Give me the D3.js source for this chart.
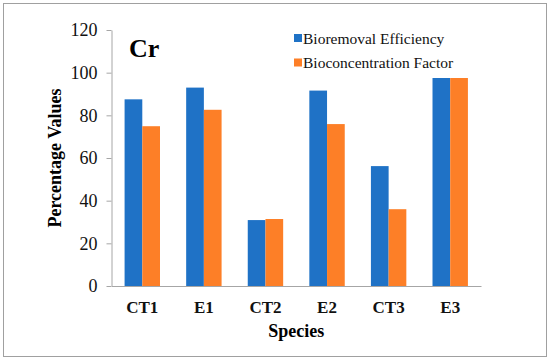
<!DOCTYPE html>
<html>
<head>
<meta charset="utf-8">
<script src="https://cdn.jsdelivr.net/npm/d3@7"></script>
<style>
  body { margin: 0; background: #fff; }
  text { font-family: "Liberation Serif", "Times New Roman", serif; }
</style>
</head>
<body>
<svg id="chart"></svg>
<script>
// data
const species = ["CT1", "E1", "CT2", "E2", "CT3", "E3"];
const seriesNames = ["Bioremoval Efficiency", "Bioconcentration Factor"];
const bioremoval = [87.5, 93.0, 30.9, 91.6, 56.2, 97.5];
const bioconcentration = [74.9, 82.6, 31.4, 75.9, 36.0, 97.5];
const yTicks = [0, 20, 40, 60, 80, 100, 120];
const colors = ["#1f72c6", "#fd7f27"];

const width = 550, height = 360;
const margin = { top: 30, right: 69, bottom: 74, left: 111.5 };

const svg = d3.select("#chart").attr("width", width).attr("height", height);

//frame
svg.append("rect")
  .attr("x", 3.5).attr("y", 3.5)
  .attr("width", width - 7).attr("height", height - 7)
  .attr("fill", "#fff").attr("stroke", "#a0a0a0");

const x = d3.scaleBand()
  .domain(species)
  .range([margin.left, width - margin.right])
  .paddingInner(0.425).paddingOuter(0.2125);

const x1 = d3.scaleBand().domain([0, 1]).range([0, x.bandwidth()]);

const y = d3.scaleLinear().domain([0, 120]).range([height - margin.bottom, margin.top]);

const rows = species.map((s, i) => ({ s, v: [bioremoval[i], bioconcentration[i]] }));

//bars
svg.append("g").selectAll("g")
  .data(rows).join("g")
  .attr("transform", d => `translate(${x(d.s)},0)`)
  .selectAll("rect")
  .data(d => d.v.map((v, k) => ({ v, k })))
  .join("rect")
  .attr("x", d => x1(d.k))
  .attr("width", x1.bandwidth())
  .attr("y", d => y(d.v))
  .attr("height", d => y(0) - y(d.v))
  .attr("fill", d => colors[d.k]);

//y axis
const yAxis = svg.append("g")
  .attr("transform", `translate(${margin.left},0)`)
  .call(d3.axisLeft(y).tickValues(yTicks).tickSize(5).tickSizeOuter(0).tickPadding(9));
yAxis.select(".domain").attr("stroke", "#a6a6a6");
yAxis.selectAll(".tick line").attr("stroke", "#a6a6a6");
yAxis.selectAll(".tick text")
  .attr("font-size", 18).attr("fill", "#111")
  .style("font-family", "Liberation Serif");

//x axis
const xAxis = svg.append("g")
  .attr("transform", `translate(0,${y(0)})`)
  .call(d3.axisBottom(x).tickSize(0).tickPadding(15));
xAxis.select(".domain").attr("stroke", "#a6a6a6");
xAxis.selectAll(".tick text")
  .attr("font-size", 17).attr("font-weight", "bold").attr("fill", "#111")
  .style("font-family", "Liberation Serif");

//axis titles
svg.append("text")
  .attr("x", (margin.left + width - margin.right) / 2)
  .attr("y", 337)
  .attr("text-anchor", "middle")
  .attr("font-size", 18).attr("font-weight", "bold")
  .text("Species");

svg.append("text")
  .attr("transform", `translate(61,${(margin.top + height - margin.bottom) / 2}) rotate(-90)`)
  .attr("text-anchor", "middle")
  .attr("font-size", 18).attr("font-weight", "bold")
  .text("Percentage Values");

//panel label
svg.append("text")
  .attr("x", 129).attr("y", 57)
  .attr("font-size", 26).attr("font-weight", "bold")
  .text("Cr");

//legend
const leg = svg.append("g").selectAll("g")
  .data(seriesNames).join("g")
  .attr("transform", (d, i) => `translate(294,${38 + i * 24.5})`);
leg.append("rect")
  .attr("y", -4)
  .attr("width", 8).attr("height", 8)
  .attr("fill", (d, i) => colors[i]);
leg.append("text")
  .attr("x", 9).attr("y", 5.5)
  .attr("font-size", 15.5).attr("fill", "#111")
  .text(d => d);
</script>
</body>
</html>
